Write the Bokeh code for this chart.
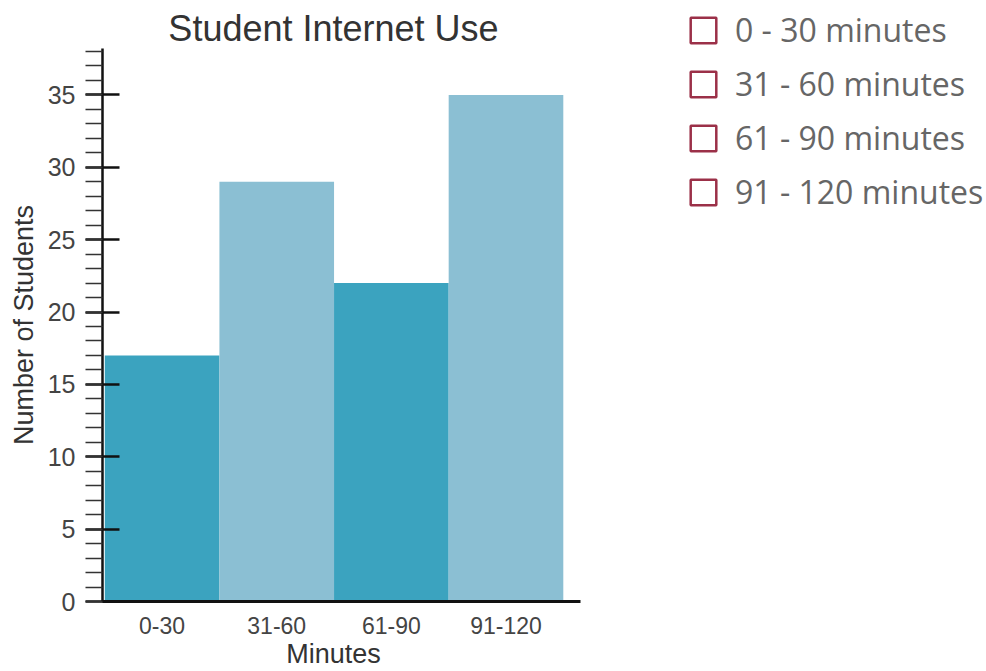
from bokeh.plotting import figure
from bokeh.models import (Range1d, FixedTicker, ColumnDataSource, Legend, LegendItem,
                          Label, LinearAxis)
from bokeh.embed import file_html
from bokeh.resources import INLINE

# Data
categories = ["0-30", "31-60", "61-90", "91-120"]
students = [17, 29, 22, 35]
bar_colors = ["#3ba3bf", "#8bbfd3", "#3ba3bf", "#8bbfd3"]
legend_labels = ["0 - 30 minutes", "31 - 60 minutes", "61 - 90 minutes", "91 - 120 minutes"]
y_ticks = [0, 5, 10, 15, 20, 25, 30, 35]
title_text = "Student Internet Use"
x_title = "Minutes"
y_title = "Number of Students"

centers = [i + 0.5 for i in range(len(categories))]
src = ColumnDataSource(dict(x=centers, top=students, color=bar_colors, cat=categories))

X_BOUNDS = (-0.02, 4.15)
Y_BOUNDS = (0, 38.2)

# The frame covers the whole upper/right area so the legend and title can sit there;
# the axes are limited with bounds to the chart part.
p = figure(width=986, height=671, output_backend="svg", toolbar_location=None,
           x_range=Range1d(-0.02, 7.692), y_range=Range1d(0, 41.52),
           min_border_left=102, min_border_right=0, min_border_top=0, min_border_bottom=70)
p.vbar(x="x", top="top", width=1.0, color="color", line_color=None, source=src)

p.xgrid.visible = False
p.ygrid.visible = False
p.outline_line_color = None

p.add_layout(Label(x=1.995, y=39.59, text=title_text, text_align="center",
                   text_baseline="middle", text_font="Liberation Sans",
                   text_font_size="36px", text_color="#333333"))

# y axis
ya = p.yaxis[0]
ya.bounds = Y_BOUNDS
ya.ticker = FixedTicker(ticks=y_ticks, minor_ticks=list(range(0, 39)))
ya.axis_line_width = 2.5
ya.axis_line_color = "#111111"
ya.major_tick_in = 17
ya.major_tick_out = 17
ya.major_tick_line_width = 2.5
ya.major_tick_line_color = "#111111"
ya.minor_tick_in = 0
ya.minor_tick_out = 17
ya.minor_tick_line_width = 1.5
ya.minor_tick_line_color = "#333333"
ya.major_label_text_font = "Liberation Sans"
ya.major_label_text_font_size = "25px"
ya.major_label_text_color = "#444444"
ya.major_label_standoff = 10

# y title as a second, label-only axis centred on the chart part
ymid = (Y_BOUNDS[0] + Y_BOUNDS[1]) / 2
ya2 = LinearAxis(ticker=FixedTicker(ticks=[ymid], minor_ticks=[]),
                 major_label_overrides={ymid: y_title},
                 major_label_orientation="vertical",
                 axis_line_color=None, major_tick_in=0, major_tick_out=0,
                 minor_tick_in=0, minor_tick_out=0, major_label_standoff=5,
                 major_label_text_font="Liberation Sans",
                 major_label_text_font_size="27px", major_label_text_color="#333333")
p.add_layout(ya2, "left")

# x axis
xa = p.xaxis[0]
xa.bounds = X_BOUNDS
xa.ticker = FixedTicker(ticks=centers, minor_ticks=[])
xa.major_label_overrides = {c: lab for c, lab in zip(centers, categories)}
xa.axis_line_width = 3
xa.axis_line_color = "#111111"
xa.major_tick_in = 0
xa.major_tick_out = 0
xa.minor_tick_in = 0
xa.minor_tick_out = 0
xa.major_label_text_font = "Liberation Sans"
xa.major_label_text_font_size = "23px"
xa.major_label_text_color = "#444444"
xa.major_label_standoff = 15

xmid = 1.995
xa2 = LinearAxis(ticker=FixedTicker(ticks=[xmid], minor_ticks=[]),
                 major_label_overrides={xmid: x_title},
                 axis_line_color=None, major_tick_in=0, major_tick_out=0,
                 minor_tick_in=0, minor_tick_out=0, major_label_standoff=2,
                 major_label_text_font="Liberation Sans",
                 major_label_text_font_size="27px", major_label_text_color="#333333")
p.add_layout(xa2, "below")

# legend (checkbox-like squares); renderers are hidden, only their legend glyphs show
items = []
for lab in legend_labels:
    r = p.quad(left=[0], right=[0], top=[0], bottom=[0], fill_color=None,
               line_color="#9b3048", line_width=2.5, visible=False)
    items.append(LegendItem(label=lab, renderers=[r]))

legend = Legend(items=items, location=(585, 388), orientation="vertical",
                glyph_width=32, glyph_height=32, label_standoff=16, spacing=11,
                padding=0, margin=0, border_line_color=None, background_fill_alpha=0,
                inactive_fill_alpha=0,
                label_text_font="Open Sans", label_text_font_size="32px",
                label_text_color="#666666")
p.add_layout(legend, "center")

open("out.html", "w").write(file_html(p, INLINE))
